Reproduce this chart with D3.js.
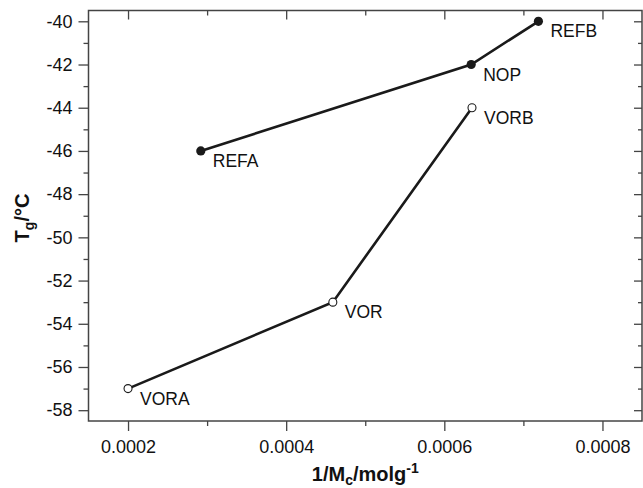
<!DOCTYPE html>
<html><head><meta charset="utf-8">
<script src="https://cdn.jsdelivr.net/npm/d3@7"></script>
<style>
html,body{margin:0;padding:0;background:#fff;}
svg{display:block;font-family:"Liberation Sans",Arial,sans-serif;}
</style></head>
<body><svg id="c" width="643" height="488"></svg>
<script>
// Data
const filledLabels = ["REFA", "NOP", "REFB"];
const filledX = [0.000292, 0.000634, 0.000719];
const filledY = [-46, -42, -40];
const openLabels = ["VORA", "VOR", "VORB"];
const openX = [0.0002, 0.000459, 0.000635];
const openY = [-57, -53, -44];
const xMajorTicks = [0.0002, 0.0004, 0.0006, 0.0008];
const xMinorTicks = [0.0003, 0.0005, 0.0007];
const yMajorTicks = [-40, -42, -44, -46, -48, -50, -52, -54, -56, -58];
const yMinorTicks = [-41, -43, -45, -47, -49, -51, -53, -55, -57];

const svg = d3.select("#c");
const L = 88.5, R = 642, T = 10.5, B = 421;
const x = d3.scaleLinear().domain([0.00015, 0.00085]).range([L, R]);
const y = d3.scaleLinear().domain([-58.5, -39.5]).range([B, T]);
const axisColor = "#444";
const fmtX = d3.format(".4f");

function styleAxis(g) {
  g.select(".domain").remove();
  g.selectAll(".tick line").attr("stroke", axisColor).attr("stroke-width", 1.3);
  g.selectAll(".tick text").attr("fill", "#111").style("font-size", "18px")
    .style("font-family", '"Liberation Sans",Arial,sans-serif');
}
// bottom
svg.append("g").attr("transform", `translate(0,${B})`)
  .call(d3.axisBottom(x).tickValues(xMajorTicks).tickSize(10).tickPadding(9).tickFormat(fmtX))
  .call(styleAxis);
svg.append("g").attr("transform", `translate(0,${B})`)
  .call(d3.axisBottom(x).tickValues(xMinorTicks).tickSize(5).tickFormat(""))
  .call(styleAxis);
// top (inward)
svg.append("g").attr("transform", `translate(0,${T})`)
  .call(d3.axisBottom(x).tickValues(xMajorTicks).tickSize(9).tickFormat(""))
  .call(styleAxis);
svg.append("g").attr("transform", `translate(0,${T})`)
  .call(d3.axisBottom(x).tickValues(xMinorTicks).tickSize(5).tickFormat(""))
  .call(styleAxis);
// left
svg.append("g").attr("transform", `translate(${L},0)`)
  .call(d3.axisLeft(y).tickValues(yMajorTicks).tickSize(10).tickPadding(6).tickFormat(d3.format("d")))
  .call(styleAxis);
svg.append("g").attr("transform", `translate(${L},0)`)
  .call(d3.axisLeft(y).tickValues(yMinorTicks).tickSize(5).tickFormat(""))
  .call(styleAxis);
// right (inward)
svg.append("g").attr("transform", `translate(${R},0)`)
  .call(d3.axisLeft(y).tickValues(yMajorTicks).tickSize(8).tickFormat(""))
  .call(styleAxis);
svg.append("g").attr("transform", `translate(${R},0)`)
  .call(d3.axisLeft(y).tickValues(yMinorTicks).tickSize(4).tickFormat(""))
  .call(styleAxis);
svg.selectAll(".tick text").filter(function(){return this.textContent==="";}).remove();
svg.selectAll(".tick text").each(function(){ this.textContent = this.textContent.replace("\u2212","-"); });

// frame
svg.append("rect").attr("x", L).attr("y", T).attr("width", R - L).attr("height", B - T)
  .attr("fill", "none").attr("stroke", axisColor).attr("stroke-width", 1.5);

// lines
const line = d3.line().x(d => x(d[0])).y(d => y(d[1]));
const filled = filledX.map((v, i) => [v, filledY[i], filledLabels[i]]);
const open = openX.map((v, i) => [v, openY[i], openLabels[i]]);
[filled, open].forEach(data => {
  svg.append("path").datum(data).attr("d", line)
    .attr("fill", "none").attr("stroke", "#1a1a1a").attr("stroke-width", 2.6);
});
svg.selectAll("circle.f").data(filled).enter().append("circle")
  .attr("cx", d => x(d[0])).attr("cy", d => y(d[1])).attr("r", 4.6).attr("fill", "#1a1a1a");
svg.selectAll("circle.o").data(open).enter().append("circle")
  .attr("cx", d => x(d[0])).attr("cy", d => y(d[1])).attr("r", 4)
  .attr("fill", "#fff").attr("stroke", "#1a1a1a").attr("stroke-width", 1.1);
svg.selectAll("text.lbl").data(filled.concat(open)).enter().append("text")
  .attr("x", d => x(d[0]) + 12).attr("y", d => y(d[1]) + 16)
  .attr("fill", "#111").style("font-size", "17.5px").text(d => d[2]);

// axis titles
const xt = svg.append("text").attr("x", (L + R) / 2).attr("y", 481).attr("text-anchor", "middle")
  .style("font-size", "20px").style("font-weight", "bold").attr("fill", "#111");
xt.append("tspan").text("1/M");
xt.append("tspan").attr("dy", 4).style("font-size", "14px").text("c");
xt.append("tspan").attr("dy", -4).text("/molg");
xt.append("tspan").attr("dy", -8).style("font-size", "14px").text("-1");

const yt = svg.append("text").attr("transform", "translate(29,218) rotate(-90)").attr("text-anchor", "middle")
  .style("font-size", "20px").style("font-weight", "bold").attr("fill", "#111");
yt.append("tspan").text("T");
yt.append("tspan").attr("dy", 5).style("font-size", "14px").text("g");
yt.append("tspan").attr("dy", -5).text("/°C");
</script></body></html>
